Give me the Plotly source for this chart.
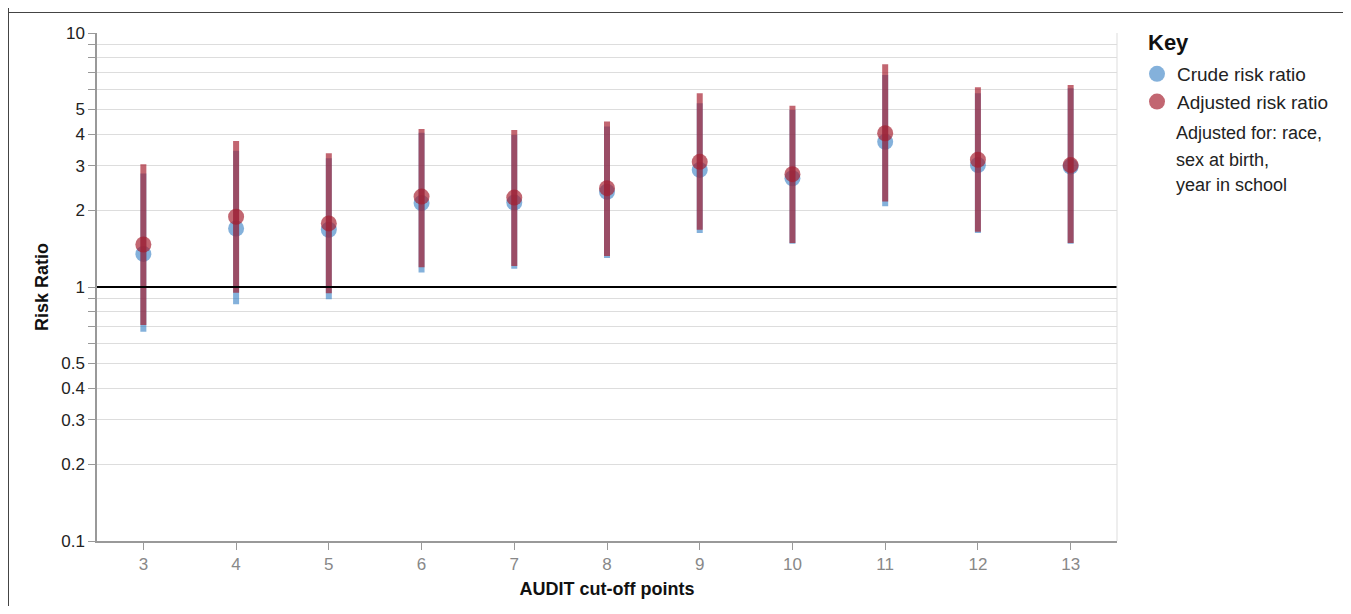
import plotly.graph_objects as go

# ---- data ----
cutoffs = [3, 4, 5, 6, 7, 8, 9, 10, 11, 12, 13]

crude_rr    = [1.35, 1.70, 1.68, 2.14, 2.15, 2.37, 2.89, 2.68, 3.73, 3.02, 2.98]
crude_lower = [0.667, 0.855, 0.895, 1.14, 1.18, 1.30, 1.63, 1.48, 2.08, 1.63, 1.48]
crude_upper = [2.80, 3.44, 3.21, 4.05, 3.97, 4.28, 5.29, 4.98, 6.83, 5.79, 6.06]

adj_rr    = [1.47, 1.89, 1.78, 2.27, 2.25, 2.45, 3.11, 2.78, 4.03, 3.17, 3.02]
adj_lower = [0.708, 0.95, 0.944, 1.196, 1.21, 1.325, 1.68, 1.49, 2.17, 1.65, 1.49]
adj_upper = [3.04, 3.76, 3.36, 4.19, 4.15, 4.48, 5.79, 5.17, 7.53, 6.11, 6.24]

y_tickvals = [0.1, 0.2, 0.3, 0.4, 0.5, 0.6, 0.7, 0.8, 0.9, 1, 2, 3, 4, 5, 6, 7, 8, 9, 10]
y_ticktext = ["0.1", "0.2", "0.3", "0.4", "0.5", "", "", "", "", "1", "2", "3", "4", "5", "", "", "", "", "10"]

legend_title = "Key"
note_lines = ["Adjusted for: race,", "sex at birth,", "year in school"]

FONT = "Liberation Sans, Arial, sans-serif"
BLUE = "rgba(50,125,195,0.6)"
RED = "rgba(165,30,45,0.68)"

fig = go.Figure()

fig.add_trace(go.Scatter(
    x=cutoffs, y=crude_rr, mode="markers", name="Crude risk ratio",
    marker=dict(size=16, color=BLUE, line=dict(width=0)),
    error_y=dict(type="data", symmetric=False,
                 array=[u - v for u, v in zip(crude_upper, crude_rr)],
                 arrayminus=[v - l for v, l in zip(crude_rr, crude_lower)],
                 color=BLUE, thickness=6, width=0),
    legendgroup="a",
))
fig.add_trace(go.Scatter(
    x=cutoffs, y=adj_rr, mode="markers", name="Adjusted risk ratio",
    marker=dict(size=16, color=RED, line=dict(width=0)),
    error_y=dict(type="data", symmetric=False,
                 array=[u - v for u, v in zip(adj_upper, adj_rr)],
                 arrayminus=[v - l for v, l in zip(adj_rr, adj_lower)],
                 color=RED, thickness=6, width=0),
    legendgroup="b",
))

# page is 1351x614; the figure sits inside the 8px body margin
OFF = 8
W, H = 1351 - 2 * OFF, 614 - 2 * OFF
L = 97 - OFF
T = 33 - OFF
R = W - (1117 - OFF)
B = H - (541 - OFF)
pw, ph = W - L - R, H - T - B

def px(xp):
    # page pixel x -> paper
    return (xp - OFF - L) / pw

def py(yp):
    # page pixel y -> paper
    return (H - B - (yp - OFF)) / ph

def cx(xp):
    # page pixel x -> container
    return (xp - OFF) / W

def cy(yp):
    # page pixel y -> container
    return 1 - (yp - OFF) / H

shapes = [
    # reference line at 1
    dict(type="line", xref="paper", yref="y", x0=0, x1=1, y0=1, y1=1,
         line=dict(color="black", width=2)),
    # right edge
    dict(type="line", xref="paper", yref="paper", x0=1, x1=1, y0=0, y1=1,
         line=dict(color="#dddddd", width=1)),
    # page frame lines
    dict(type="line", xref="paper", yref="paper", x0=px(8), x1=px(1351), y0=py(12.5), y1=py(12.5),
         line=dict(color="#444444", width=1)),
    dict(type="line", xref="paper", yref="paper", x0=px(8.5), x1=px(8.5), y0=py(8), y1=py(614),
         line=dict(color="#444444", width=1)),
]

annotations = [dict(
    text="<b>" + legend_title + "</b>", xref="paper", yref="paper", x=px(1146), y=py(43),
    xanchor="left", yanchor="middle", showarrow=False,
    font=dict(family=FONT, size=22, color="#111111"),
)]
for txt, yy in zip(note_lines, [133, 160, 185]):
    annotations.append(dict(
        text=txt, xref="paper", yref="paper", x=px(1174), y=py(yy),
        xanchor="left", yanchor="middle", showarrow=False,
        font=dict(family=FONT, size=18, color="#222222"),
    ))

fig.update_layout(
    width=W, height=H,
    margin=dict(l=L, r=R, t=T, b=B, pad=0, autoexpand=False),
    paper_bgcolor="white", plot_bgcolor="white",
    font=dict(family=FONT, color="#222222"),
    showlegend=True,
    legend=dict(
        xref="container", yref="container",
        x=cx(1137), y=cy(55), xanchor="left", yanchor="top",
        font=dict(family=FONT, size=19, color="#222222"),
        tracegroupgap=0, bgcolor="rgba(0,0,0,0)", itemclick=False,
    ),
    xaxis=dict(
        range=[2.5, 13.5], tickmode="array", tickvals=cutoffs,
        showgrid=False, zeroline=False, automargin=False,
        showline=True, linecolor="#999999", linewidth=1.5,
        ticks="outside", ticklen=7, tickcolor="#999999", tickwidth=1,
        tickfont=dict(family=FONT, size=17, color="#888888"),
        title=dict(text="<b>AUDIT cut-off points</b>", font=dict(family=FONT, size=18, color="#111111"), standoff=9),
    ),
    yaxis=dict(
        type="log", range=[-1, 1], tickmode="array",
        tickvals=y_tickvals, ticktext=y_ticktext, automargin=False,
        showgrid=True, gridcolor="#dddddd", gridwidth=1, zeroline=False,
        showline=True, linecolor="#999999", linewidth=1.5,
        ticks="outside", ticklen=7, tickcolor="#999999", tickwidth=1,
        tickfont=dict(family=FONT, size=17, color="#222222"),
        title=dict(text="<b>Risk Ratio</b>", font=dict(family=FONT, size=18, color="#111111"), standoff=8),
    ),
    shapes=shapes,
    annotations=annotations,
)

fig.write_html("out.html")
